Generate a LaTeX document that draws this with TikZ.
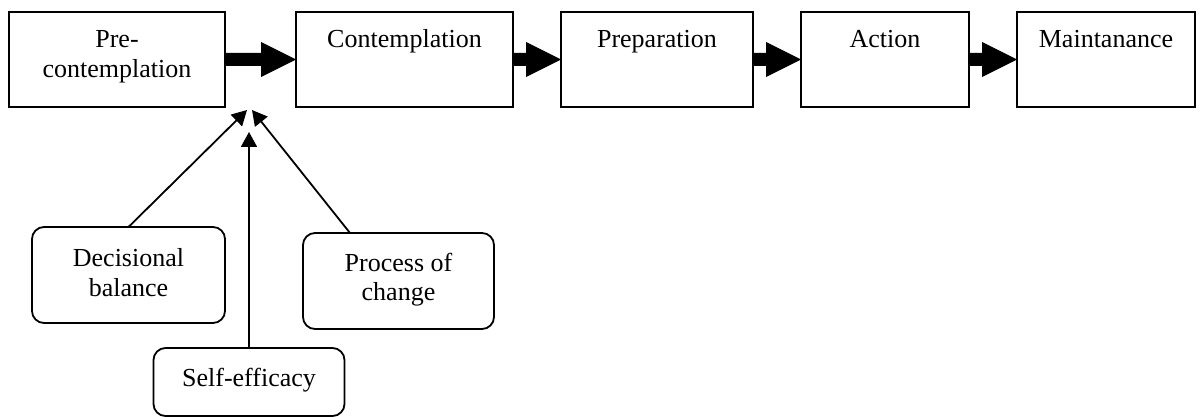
\documentclass[tikz,border=0pt]{standalone}
\usepackage{fontspec}
\setmainfont{Liberation Serif}
\usetikzlibrary{arrows.meta,calc}
% wide filled arrow from the east side of one stage to the west side of the next
\newcommand\stagearrow[2]{%
  \fill let \p1=(#1.east), \p2=(#2.west) in
    (\x1,{\y1+6.5pt}) -- ({\x2-35pt},{\y1+6.5pt}) -- ({\x2-35pt},{\y1+17.5pt}) --
    (\x2,\y1) -- ({\x2-35pt},{\y1-17.5pt}) -- ({\x2-35pt},{\y1-6.5pt}) --
    (\x1,{\y1-6.5pt}) -- cycle;}
\begin{document}
\begin{tikzpicture}[x=1pt,y=-1pt,
  stage/.style={draw,line width=1.8pt,minimum height=95pt,inner sep=0pt,outer sep=0pt},
  factor/.style={draw,line width=1.8pt,rounded corners=12pt,inner sep=0pt,outer sep=0pt},
  lbl/.style={anchor=base,inner sep=0pt,font=\fontsize{26}{29}\selectfont},
  link/.style={line width=1.8pt,-{Triangle[length=15pt,width=16pt]}}]
\useasboundingbox (0,0) rectangle (1200,417);

% stages of change
\node[stage,minimum width=216pt] (pre)  at (117,59.5) {};
\node[stage,minimum width=217pt] (con)  at (404.5,59.5) {};
\node[stage,minimum width=192pt] (prep) at (657,59.5) {};
\node[stage,minimum width=168pt] (act)  at (885,59.5) {};
\node[stage,minimum width=178pt] (main) at (1106,59.5) {};

\node[lbl] (preA) at (117,48) {Pre-};
\node[lbl] (preB) at (117,78) {contemplation};
\node[lbl] (conT) at (404.5,48) {Contemplation};
\node[lbl] (prepT) at (657,48) {Preparation};
\node[lbl] (actT) at (885,48) {Action};
\node[lbl] (mainT) at (1106,48) {Maintanance};

\stagearrow{pre}{con}
\stagearrow{con}{prep}
\stagearrow{prep}{act}
\stagearrow{act}{main}

% influencing factors
\node[factor,minimum width=193pt,minimum height=96pt] (db) at (128.5,275) {};
\node[factor,minimum width=191pt,minimum height=96pt] (pc) at (398.5,281) {};
\node[factor,minimum width=191pt,minimum height=68pt] (se) at (249,382) {};

\node[lbl] (dbA) at (128.5,266) {Decisional};
\node[lbl] (dbB) at (128.5,296) {balance};
\node[lbl] (pcA) at (398.5,271) {Process of};
\node[lbl] (pcB) at (398.5,300) {change};
\node[lbl] (seT) at (249,386) {Self-efficacy};

\coordinate (hubL) at (247,110);
\coordinate (hubR) at (252,110);
\coordinate (hubS) at (249,132);
\coordinate (pcTop) at (350,233);

\draw[link] (db.north) -- (hubL);
\draw[link] (pcTop) -- (hubR);
\draw[link] (se.north) -- (hubS);
\end{tikzpicture}
\end{document}
